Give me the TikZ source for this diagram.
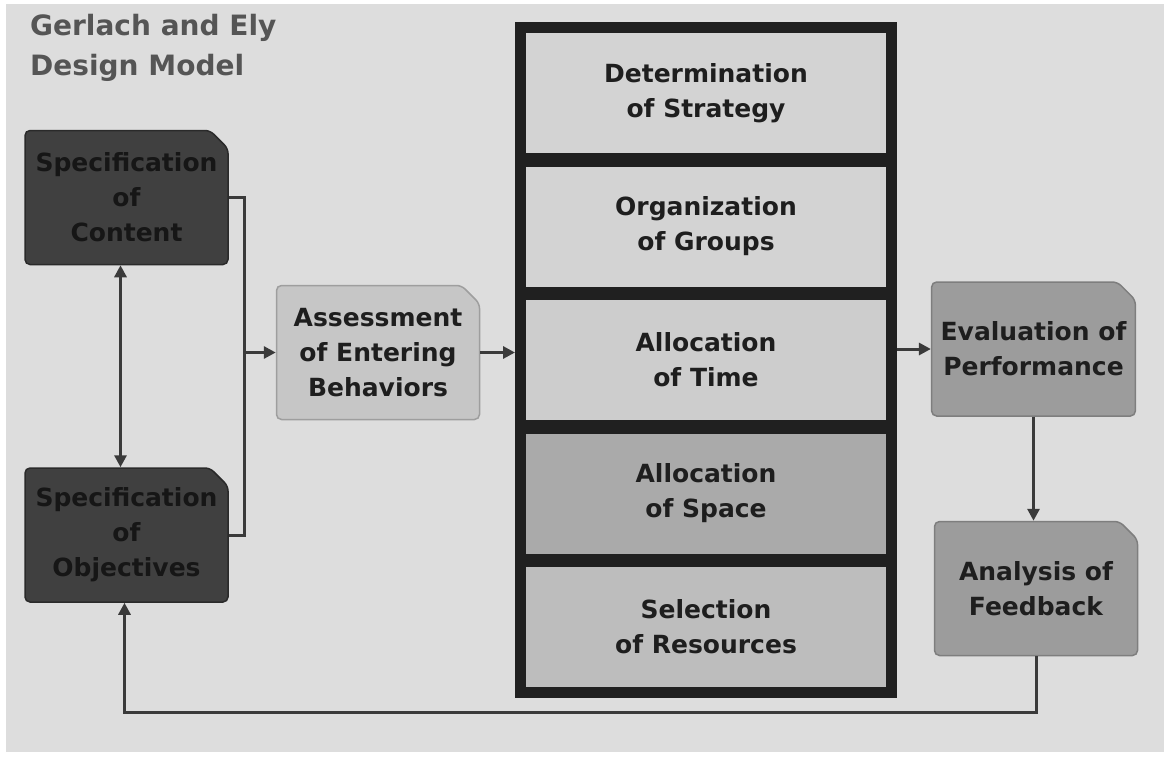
\documentclass[tikz,border=0pt]{standalone}
\usepackage{fontspec}
\setmainfont{DejaVu Sans}
\usetikzlibrary{shapes.misc,arrows.meta}
\definecolor{bg}{HTML}{DDDDDD}
\definecolor{txt}{HTML}{1E1E1E}
\definecolor{ttl}{HTML}{555555}
\definecolor{dark}{HTML}{404040}
\definecolor{darkline}{HTML}{2A2A2A}
\definecolor{darktxt}{HTML}{161616}
\definecolor{light}{HTML}{C6C6C6}
\definecolor{lightline}{HTML}{9E9E9E}
\definecolor{mid}{HTML}{9C9C9C}
\definecolor{midline}{HTML}{7E7E7E}
\definecolor{frm}{HTML}{202020}
\definecolor{linec}{HTML}{3A3A3A}
\definecolor{panA}{HTML}{D3D3D3}
\definecolor{panB}{HTML}{CDCDCD}
\definecolor{panC}{HTML}{AAAAAA}
\definecolor{panD}{HTML}{BDBDBD}
\begin{document}
\begin{tikzpicture}[x=1pt,y=-1pt,
  cbox/.style={chamfered rectangle, chamfered rectangle corners=north east,
    chamfered rectangle xsep=9pt, chamfered rectangle ysep=9pt,
    rounded corners=5pt, line width=1.5pt, align=center, inner sep=0pt,
    minimum width=203pt, minimum height=134pt,
    font=\fontsize{25}{35}\selectfont\bfseries, text=txt},
  darkbox/.style={cbox, fill=dark, draw=darkline, text=darktxt},
  lightbox/.style={cbox, fill=light, draw=lightline},
  midbox/.style={cbox, fill=mid, draw=midline},
  panel/.style={rectangle, minimum width=360pt, minimum height=120pt, inner sep=0pt,
    align=center, font=\fontsize{25}{35}\selectfont\bfseries, text=txt},
  conn/.style={draw=linec, line width=3pt},
  arr/.style={conn, -{Triangle[length=12pt,width=12pt]}},
  darr/.style={conn, {Triangle[length=12pt,width=12pt]}-{Triangle[length=12pt,width=12pt]}}
]
\useasboundingbox (0,0) rectangle (1169,758);
\fill[white] (0,0) rectangle (1169,758);
\fill[bg] (6,4) rectangle (1164,752);

\node[anchor=north west, align=left, inner sep=0pt,
  font=\fontsize{28}{40}\selectfont\bfseries, text=ttl] (title) at (30,14)
  {Gerlach and Ely\\Design Model};

\node[darkbox] (sc) at (126.5,197.5) {Specification\\of\\Content};
\node[darkbox] (so) at (126.5,535) {Specification\\of\\Objectives};
\node[lightbox] (ae) at (378,352.5) {Assessment\\of Entering\\Behaviors};

\node[draw=frm, fill=frm, line width=11pt, minimum width=371pt,
  minimum height=665pt, inner sep=0pt] (fr) at (706,360) {};
\node[panel, fill=panA] (p1) at (706,93) {Determination\\of Strategy};
\node[panel, fill=panA] (p2) at (706,226.5) {Organization\\of Groups};
\node[panel, fill=panB] (p3) at (706,360) {Allocation\\of Time};
\node[panel, fill=panC] (p4) at (706,493.5) {Allocation\\of Space};
\node[panel, fill=panD] (p5) at (706,627) {Selection\\of Resources};

\node[midbox] (ev) at (1033.5,349) {Evaluation of\\Performance};
\node[midbox] (an) at (1036,588.5) {Analysis of\\Feedback};

\draw[darr] ([xshift=-6pt]sc.south) -- ([xshift=-6pt]so.north);
\coordinate (br) at (244,352.5);
\draw[conn] (sc.east) -| (br) |- (so.east);
\draw[arr] (br) -- (ae.west);
\draw[arr] (ae.east) -- (ae.east -| fr.west);
\draw[arr] (ev.west -| fr.east) -- (ev.west);
\draw[arr] (ev.south) -- (ev.south |- an.north);
\coordinate (fb) at (1032,712);
\draw[arr] (an.south) |- (fb) -| ([xshift=-2pt]so.south);
\end{tikzpicture}
\end{document}
